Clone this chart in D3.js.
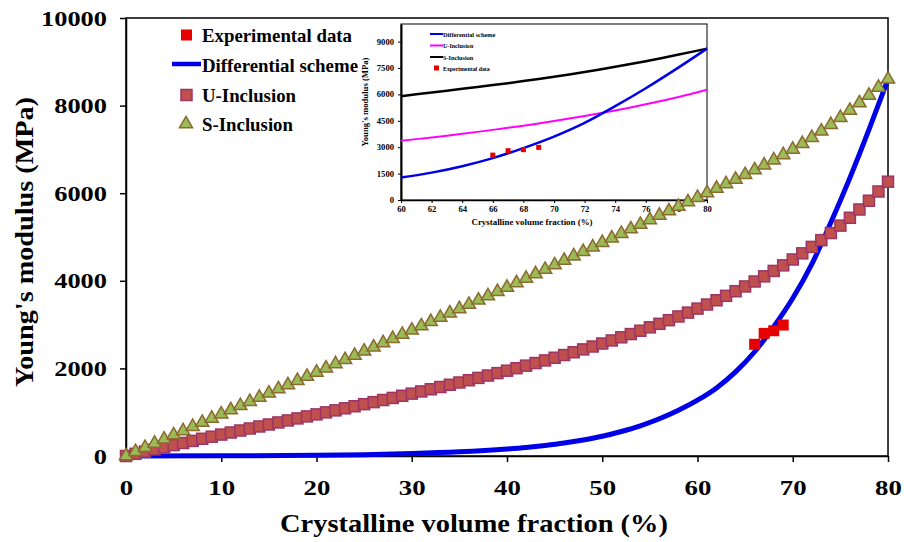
<!DOCTYPE html>
<html>
<head>
<meta charset="utf-8">
<script src="https://cdn.jsdelivr.net/npm/d3@7"></script>
<style>
    body { margin: 0; background: #fff; }
    text { font-family: "Liberation Serif", "Times New Roman", Tinos, serif; font-weight: bold; }
</style>
</head>
<body>
<svg id="chart" width="904" height="542"></svg>
<script>
// crystalline volume fraction (%) for the model curves, one marker per percent
const fractions = d3.range(0, 81);

const uInclusion = [
    0, 50, 100, 150, 199, 248, 297, 345, 393, 441,
    489, 536, 582, 628, 674, 720, 766, 812, 858, 904,
    950, 996, 1042, 1089, 1136, 1183, 1230, 1278, 1326, 1375,
    1424, 1474, 1524, 1575, 1626, 1678, 1730, 1783, 1837, 1892,
    1948, 2005, 2063, 2122, 2182, 2243, 2305, 2369, 2434, 2500,
    2568, 2638, 2710, 2784, 2860, 2938, 3018, 3101, 3186, 3274,
    3365, 3459, 3556, 3657, 3762, 3871, 3984, 4102, 4225, 4353,
    4487, 4627, 4774, 4928, 5090, 5260, 5439, 5628, 5828, 6039,
    6262
];

const sInclusion = [
    0, 96, 191, 287, 382, 478, 573, 669, 764, 860,
    955, 1051, 1146, 1242, 1337, 1433, 1528, 1624, 1719, 1815,
    1910, 2006, 2102, 2198, 2294, 2390, 2486, 2582, 2678, 2774,
    2870, 2968, 3066, 3164, 3262, 3360, 3458, 3556, 3654, 3752,
    3850, 3952, 4054, 4156, 4258, 4360, 4462, 4564, 4666, 4768,
    4870, 4974, 5078, 5182, 5286, 5390, 5492, 5594, 5696, 5798,
    5900, 6004, 6108, 6212, 6316, 6420, 6528, 6640, 6756, 6876,
    7000, 7130, 7268, 7414, 7566, 7724, 7888, 8058, 8234, 8416,
    8600
];

// differential scheme (smooth line)
const diffX = [0, 10, 20, 25, 30, 35, 40, 42, 44, 46, 48, 50, 52, 54, 56, 58,
               60, 62, 64, 66, 68, 70, 72, 74, 76, 78, 80];
const diffY = [0, 3, 15, 30, 55, 95, 160, 195, 240, 295, 365, 450, 560, 690, 850, 1045,
               1275, 1555, 1920, 2380, 2950, 3600, 4380, 5330, 6350, 7450, 8600];

// experimental data
const expX = [66, 67, 68, 69];
const expY = [2550, 2800, 2860, 2990];

const xTicks = [0, 10, 20, 30, 40, 50, 60, 70, 80];
const yTicks = [0, 2000, 4000, 6000, 8000, 10000];
const insetXTicks = [60, 62, 64, 66, 68, 70, 72, 74, 76, 78, 80];
const insetYTicks = [0, 1500, 3000, 4500, 6000, 7500, 9000];

const margin = ({top: 18, right: 16, bottom: 86, left: 126});
const width = 904;
const height = 542;

const colors = {
    exp: '#e60000',
    diff: '#0000e8',
    uFill: '#c0504d', uStroke: '#9c3565',
    sFill: '#9bbb59', sStroke: '#8b6a2e',
    insetU: '#ff00ff', insetS: '#000000'
};

const fmt = d3.format('d');

const svg = d3.select('#chart');

const xScale = d3.scaleLinear()
    .domain([0, 80])
    .range([margin.left, width - margin.right]);

const yScale = d3.scaleLinear()
    .domain([0, 10000])
    .range([height - margin.bottom, margin.top]);

const uData = fractions.map((f, i) => ({x: f, y: uInclusion[i]}));
const sData = fractions.map((f, i) => ({x: f, y: sInclusion[i]}));
const diffData = diffX.map((f, i) => ({x: f, y: diffY[i]}));
const expData = expX.map((f, i) => ({x: f, y: expY[i]}));

// frame
svg.append('rect')
    .attr('x', xScale(0))
    .attr('y', yScale(10000))
    .attr('width', xScale(80) - xScale(0))
    .attr('height', yScale(0) - yScale(10000))
    .attr('fill', 'none')
    .attr('stroke', '#000')
    .attr('stroke-width', 1.5);

const xAxis = g => g.attr('transform', `translate(0, ${yScale(0)})`)
    .call(d3.axisBottom(xScale).tickValues(xTicks).tickFormat(fmt).tickSize(6).tickSizeOuter(0))
    .call(g => g.select('.domain').attr('stroke-width', 1.5))
    .call(g => g.selectAll('.tick line').attr('stroke-width', 1.5))
    .call(g => g.selectAll('.tick text')
        .attr('font-size', 21)
        .attr('dy', 0)
        .attr('y', 39)
        .attr('fill', '#000')
        .attr('lengthAdjust', 'spacingAndGlyphs')
        .attr('textLength', d => fmt(d).length * 13.4));

const yAxis = g => g.attr('transform', `translate(${xScale(0)}, 0)`)
    .call(d3.axisLeft(yScale).tickValues(yTicks).tickFormat(fmt).tickSize(6).tickSizeOuter(0))
    .call(g => g.select('.domain').attr('stroke-width', 1.5))
    .call(g => g.selectAll('.tick line').attr('stroke-width', 1.5))
    .call(g => g.selectAll('.tick text')
        .attr('font-size', 21)
        .attr('x', -19)
        .attr('dy', '0.34em')
        .attr('fill', '#000')
        .attr('lengthAdjust', 'spacingAndGlyphs')
        .attr('textLength', d => fmt(d).length * 13.2));

svg.append('g').attr('class', 'x-axis').call(xAxis);
svg.append('g').attr('class', 'y-axis').call(yAxis);

svg.selectAll('.domain, .tick line').attr('stroke', '#000');

// axis titles
svg.append('text')
    .attr('x', 474)
    .attr('y', 532)
    .attr('text-anchor', 'middle')
    .attr('font-size', 25)
    .attr('lengthAdjust', 'spacingAndGlyphs')
    .attr('textLength', 388)
    .text('Crystalline volume fraction (%)');

svg.append('text')
    .attr('transform', 'translate(33, 242) rotate(-90)')
    .attr('text-anchor', 'middle')
    .attr('font-size', 25)
    .attr('lengthAdjust', 'spacingAndGlyphs')
    .attr('textLength', 290)
    .text("Young's modulus (MPa)");

// ---------- inset ----------
const ix = d3.scaleLinear().domain([60, 80]).range([401, 707]);
const iy = d3.scaleLinear().domain([0, 10000]).range([200, 24]);

const inset = svg.append('g').attr('class', 'inset');

inset.append('rect')
    .attr('x', ix(60))
    .attr('y', iy(10000))
    .attr('width', ix(80) - ix(60))
    .attr('height', iy(0) - iy(10000))
    .attr('fill', '#fff')
    .attr('stroke', '#000')
    .attr('stroke-width', 1);

inset.append('g')
    .attr('transform', `translate(0, ${iy(0)})`)
    .call(d3.axisBottom(ix).tickValues(insetXTicks).tickFormat(fmt).tickSize(3).tickSizeOuter(0))
    .call(g => g.select('.domain').attr('stroke-width', 1.5))
    .call(g => g.selectAll('.tick text')
        .attr('font-size', 7.5)
        .attr('y', 12)
        .attr('dy', 0)
        .attr('lengthAdjust', 'spacingAndGlyphs')
        .attr('textLength', d => fmt(d).length * 4.3));

inset.append('g')
    .attr('transform', `translate(${ix(60)}, 0)`)
    .call(d3.axisLeft(iy).tickValues(insetYTicks).tickFormat(fmt).tickSize(3).tickSizeOuter(0))
    .call(g => g.select('.domain').attr('stroke-width', 2))
    .call(g => g.selectAll('.tick text')
        .attr('font-size', 7.5)
        .attr('x', -7)
        .attr('lengthAdjust', 'spacingAndGlyphs')
        .attr('textLength', d => fmt(d).length * 4.3));

inset.selectAll('.domain, .tick line').attr('stroke', '#000');

inset.append('text')
    .attr('x', 532)
    .attr('y', 225)
    .attr('text-anchor', 'middle')
    .attr('font-size', 8)
    .attr('lengthAdjust', 'spacingAndGlyphs')
    .attr('textLength', 121)
    .text('Crystalline volume fraction (%)');

inset.append('text')
    .attr('transform', 'translate(368, 102) rotate(-90)')
    .attr('text-anchor', 'middle')
    .attr('font-size', 8)
    .attr('lengthAdjust', 'spacingAndGlyphs')
    .attr('textLength', 89)
    .text("Young's modulus (MPa)");

const insetLine = d3.line().x(d => ix(d.x)).y(d => iy(d.y));

inset.append('path')
    .datum(sData.filter(d => d.x >= 60))
    .attr('d', insetLine)
    .attr('fill', 'none')
    .attr('stroke', colors.insetS)
    .attr('stroke-width', 2.5);

inset.append('path')
    .datum(uData.filter(d => d.x >= 60))
    .attr('d', insetLine)
    .attr('fill', 'none')
    .attr('stroke', colors.insetU)
    .attr('stroke-width', 2);

inset.append('path')
    .datum(diffData.filter(d => d.x >= 60))
    .attr('d', insetLine.curve(d3.curveMonotoneX))
    .attr('fill', 'none')
    .attr('stroke', colors.diff)
    .attr('stroke-width', 2.5);

inset.selectAll('.exp')
    .data(expData)
    .join('rect')
    .attr('class', 'exp')
    .attr('x', d => ix(d.x) - 2.5)
    .attr('y', d => iy(d.y) - 2.5)
    .attr('width', 5)
    .attr('height', 5)
    .attr('fill', colors.exp);

// inset legend
const insetLegend = [
    {label: 'Differential scheme', type: 'line', color: colors.diff, y: 34},
    {label: 'U-Inclusion', type: 'line', color: colors.insetU, y: 45.5},
    {label: 'S-Inclusion', type: 'line', color: colors.insetS, y: 57},
    {label: 'Experimental data', type: 'square', color: colors.exp, y: 68}
];

const il = inset.selectAll('.ileg')
    .data(insetLegend)
    .join('g')
    .attr('class', 'ileg');

il.filter(d => d.type === 'line')
    .append('line')
    .attr('x1', 430).attr('x2', 443)
    .attr('y1', d => d.y).attr('y2', d => d.y)
    .attr('stroke', d => d.color)
    .attr('stroke-width', 2);

il.filter(d => d.type === 'square')
    .append('rect')
    .attr('x', 434).attr('y', d => d.y - 2.5)
    .attr('width', 5).attr('height', 5)
    .attr('fill', d => d.color);

il.append('text')
    .attr('x', 443)
    .attr('y', d => d.y + 2.5)
    .attr('font-size', 7)
    .attr('lengthAdjust', 'spacingAndGlyphs')
    .attr('textLength', d => d.label.length * 2.75)
    .text(d => d.label);

// ---------- main series ----------
svg.append('path')
    .datum(diffData)
    .attr('d', d3.line().x(d => xScale(d.x)).y(d => yScale(d.y)).curve(d3.curveMonotoneX))
    .attr('fill', 'none')
    .attr('stroke', colors.diff)
    .attr('stroke-width', 5);

svg.append('g')
    .selectAll('rect')
    .data(uData)
    .join('rect')
    .attr('x', d => xScale(d.x) - 5.5)
    .attr('y', d => yScale(d.y) - 5.5)
    .attr('width', 11)
    .attr('height', 11)
    .attr('fill', colors.uFill)
    .attr('stroke', colors.uStroke)
    .attr('stroke-width', 1.5);

const tri = d3.symbol().type(d3.symbolTriangle).size(75);

svg.append('g')
    .selectAll('path')
    .data(sData)
    .join('path')
    .attr('transform', d => `translate(${xScale(d.x)}, ${yScale(d.y)})`)
    .attr('d', tri)
    .attr('fill', colors.sFill)
    .attr('stroke', colors.sStroke)
    .attr('stroke-width', 1.5);

svg.append('g')
    .selectAll('rect')
    .data(expData)
    .join('rect')
    .attr('x', d => xScale(d.x) - 5.5)
    .attr('y', d => yScale(d.y) - 5.5)
    .attr('width', 11)
    .attr('height', 11)
    .attr('fill', colors.exp);

// ---------- main legend ----------
const legend = [
    {label: 'Experimental data', type: 'exp', y: 35, len: 150},
    {label: 'Differential scheme', type: 'diff', y: 65, len: 156},
    {label: 'U-Inclusion', type: 'u', y: 95, len: 94},
    {label: 'S-Inclusion', type: 's', y: 124, len: 91}
];

const lg = svg.append('g').attr('class', 'legend')
    .selectAll('g')
    .data(legend)
    .join('g');

lg.filter(d => d.type === 'exp').append('rect')
    .attr('x', 181).attr('y', d => d.y - 5.5).attr('width', 11).attr('height', 11)
    .attr('fill', colors.exp);

lg.filter(d => d.type === 'diff').append('line')
    .attr('x1', 172).attr('x2', 201).attr('y1', d => d.y - 1).attr('y2', d => d.y - 1)
    .attr('stroke', colors.diff).attr('stroke-width', 4.5);

lg.filter(d => d.type === 'u').append('rect')
    .attr('x', 181).attr('y', d => d.y - 5.5).attr('width', 11).attr('height', 11)
    .attr('fill', colors.uFill).attr('stroke', colors.uStroke).attr('stroke-width', 1.5);

lg.filter(d => d.type === 's').append('path')
    .attr('transform', d => `translate(186, ${d.y})`)
    .attr('d', tri)
    .attr('fill', colors.sFill).attr('stroke', colors.sStroke).attr('stroke-width', 1.5);

lg.append('text')
    .attr('x', 202)
    .attr('y', d => d.y + 7)
    .attr('font-size', 19)
    .attr('lengthAdjust', 'spacingAndGlyphs')
    .attr('textLength', d => d.len)
    .text(d => d.label);
</script>
</body>
</html>
